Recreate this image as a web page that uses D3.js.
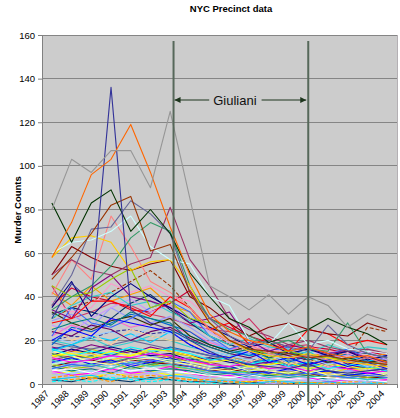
<!DOCTYPE html>
<html>
<head>
<meta charset="utf-8">
<script src="https://cdn.jsdelivr.net/npm/d3@7"></script>
<style>
  html, body { margin: 0; padding: 0; background: #fff; }
  svg { display: block; font-family: "Liberation Sans", Arial, sans-serif; }
</style>
</head>
<body>
<svg id="chart" width="400" height="418"></svg>
<script>

var years = [1987, 1988, 1989, 1990, 1991, 1992, 1993, 1994, 1995,
             1996, 1997, 1998, 1999, 2000, 2001, 2002, 2003, 2004];

var yTicks = [0, 20, 40, 60, 80, 100, 120, 140, 160];

// one row per precinct (1987 .. 2004)
var murderCounts = [
  [80,103,97,107,107,90,125,85,45,40,34,41,32,40,36,26,32,29],
  [58,74,96,103,119,97,72,50,32,24,20,18,15,17,14,12,13,10],
  [30,46,38,136,34,28,25,20,15,11,9,8,7,9,6,5,6,7],
  [83,65,83,89,70,80,69,51,40,30,26,19,22,25,30,26,23,18],
  [48,58,69,82,86,61,64,42,28,20,16,15,14,12,13,11,10,9],
  [36,50,71,72,84,78,69,42,30,22,18,20,17,15,27,18,14,12],
  [60,65,66,70,77,63,57,55,40,36,20,18,28,18,20,16,15,14],
  [58,67,68,65,52,56,57,45,28,20,15,13,12,14,12,10,9,8],
  [34,40,45,54,67,74,70,45,30,25,22,18,20,16,15,28,14,12],
  [50,57,52,50,55,58,81,57,45,30,25,22,18,20,17,15,16,14],
  [41,57,48,77,63,47,42,35,25,20,18,14,12,13,11,10,12,9],
  [50,63,58,54,52,55,57,40,35,28,22,26,28,25,23,22,28,25],
  [45,40,42,48,53,35,38,30,28,20,16,14,15,13,12,11,10,9],
  [28,30,38,38,35,31,40,35,25,28,18,21,15,25,23,18,20,18],
  [35,47,31,40,46,40,35,30,26,22,17,19,14,16,13,15,11,13],
  [34,30,44,50,40,38,35,28,30,33,20,15,18,16,14,15,12,10],
  [25,28,30,27,33,30,28,20,17,14,16,12,15,11,13,10,12,9],
  [20,25,22,30,28,26,24,18,14,12,15,10,12,9,11,8,10,7],
  [38,33,35,46,42,45,40,38,30,22,18,16,14,17,15,14,13,12],
  [30,36,40,42,36,38,33,29,22,18,21,17,16,14,18,15,17,16],
  [22,35,28,26,30,35,38,33,22,16,19,15,17,12,14,16,12,13],
  [27,24,30,35,39,33,36,30,24,19,15,17,14,16,12,13,15,11],
  [33,28,25,29,31,27,30,22,18,15,17,12,14,13,10,12,10,11],
  [24,22,27,25,20,24,26,21,17,14,12,15,13,11,14,9,12,10],
  [18,26,24,28,32,30,27,24,18,15,13,16,10,13,11,14,10,12],
  [42,36,45,38,41,44,36,33,25,19,15,17,14,12,15,13,12,14],
  [29,32,26,35,30,28,31,26,20,16,14,13,16,12,15,10,13,11],
  [26,20,23,18,25,22,20,19,14,12,10,13,9,11,8,10,9,7],
  [32,35,33,30,37,41,34,28,22,18,16,14,15,13,12,15,14,12],
  [21,19,22,24,21,26,23,20,15,13,11,14,10,12,9,11,8,10],
  [15,18,22,20,23,19,24,22,18,16,13,14,12,15,10,12,11,10],
  [20,22,21,24,25,23,24,18,14,12,10,13,9,11,8,10,9,7],
  [30,35,38,42,47,52,45,35,25,18,15,13,12,11,10,12,26,24],
  [36,44,40,38,34,33,37,43,30,26,22,19,15,17,16,14,15,13],
  [45,30,33,37,36,32,30,27,25,24,30,20,17,18,14,16,15,14],
  [13,14,12,15,13,16,15,13,10,11,8,9,10,7,9,8,7,8],
  [16,13,15,14,17,15,16,14,11,12,9,11,8,10,7,9,8,6],
  [12,10,11,13,12,14,13,11,9,8,10,7,8,6,8,7,5,6],
  [9,11,10,12,14,12,11,10,8,9,6,7,8,5,7,5,6,5],
  [15,13,10,9,11,12,10,9,7,6,8,6,5,7,4,5,6,4],
  [7,9,8,10,9,11,10,8,6,5,4,6,4,5,4,3,4,3],
  [11,8,9,7,10,8,9,7,5,6,5,3,4,3,4,3,2,3],
  [6,7,5,8,6,7,6,5,4,3,4,3,2,3,3,2,2,1],
  [4,5,6,4,7,5,6,4,3,2,3,2,2,1,2,2,1,1],
  [3,4,2,5,3,4,3,2,2,1,1,2,0,1,0,1,1,0],
  [2,3,4,2,3,2,4,3,1,2,0,1,1,0,1,0,0,1],
  [5,3,4,6,4,5,3,4,2,1,2,0,1,2,0,1,0,0],
  [8,6,7,5,8,6,7,6,4,5,3,4,3,4,2,3,2,3],
  [10,12,9,11,8,10,12,9,7,8,6,5,7,5,6,4,5,4],
  [14,11,13,10,12,9,11,12,9,7,8,6,5,7,6,4,5,6],
  [17,15,18,16,14,17,15,13,11,12,9,10,8,9,10,7,9,8],
  [19,17,16,18,20,18,16,15,13,11,12,9,11,8,10,9,11,8],
  [12,15,14,11,13,15,12,10,9,8,6,8,7,6,5,7,6,5],
  [6,4,5,7,5,6,8,5,3,4,2,3,2,3,1,2,1,2],
  [3,2,3,1,4,2,3,2,1,1,0,1,0,0,1,0,0,0],
  [1,2,1,3,2,1,2,1,0,1,0,0,1,0,0,0,1,0],
  [9,7,8,10,7,9,8,7,6,5,6,4,5,4,3,4,3,4],
  [13,16,14,17,15,13,14,11,12,10,9,11,8,10,9,7,8,6],
  [7,5,6,4,6,8,5,6,4,3,3,2,3,2,2,1,2,1],
  [11,13,12,9,12,11,13,10,10,8,9,7,8,6,7,5,6,7],
  [4,6,3,5,4,6,4,5,3,2,1,2,1,1,0,1,0,1],
  [16,18,15,13,16,14,17,15,13,12,10,11,9,8,10,9,7,9],
  [8,10,11,9,11,10,9,8,6,7,5,6,4,5,3,4,3,3],
  [20,18,21,17,19,22,20,17,15,13,14,12,11,13,10,12,9,11],
  [5,8,7,6,9,7,6,7,5,6,4,3,5,3,4,2,3,2],
  [2,1,3,2,1,3,2,1,1,0,1,0,0,1,0,0,0,0],
  [10,9,12,13,10,13,11,10,8,9,7,8,6,7,5,6,5,4],
  [14,12,16,13,15,12,14,13,11,13,10,12,9,11,10,12,9,10],
  [9,12,10,8,11,13,10,11,9,7,9,8,10,7,9,6,8,7],
  [22,27,24,30,26,28,25,24,19,16,17,14,15,13,14,12,13,11],
  [6,8,9,7,10,8,11,9,8,6,7,5,6,5,4,5,3,4]
];

var lineColors = [
  '#969696','#FF6600','#333399','#003300','#993300','#666699','#CCFFFF','#FFCC00',
  '#339966','#993366','#FF8080','#800000','#99CC00',
  '#FF0000','#000080','#800080','#008080','#0000FF','#FF99CC','#33CCCC','#3366FF',
  '#CC99FF','#333300','#660066','#0066CC','#FF9900','#9999FF','#FFCC99','#003366',
  '#99CCFF','#00CCFF',
  '#333399','#993300','#CC0033','#CC3366',
  '#FFFF00','#00FFFF','#FF00FF','#CCFFCC','#FFFF99','#3366FF','#33CCCC','#FFFFFF',
  '#99CCFF','#FF9900','#00CCFF','#CC99FF','#008080','#0000FF','#339966','#800080',
  '#666699','#FFCC00','#FF00FF','#FF9900','#00FFFF','#99CC00','#000080','#CCFFFF',
  '#993366','#FFFF00','#0066CC','#800000','#33CCCC','#FF99CC','#003366','#9999FF',
  '#CCCC00','#66CCFF','#FF66CC','#999933'
];

var dashedLines = [31, 32, 44, 54, 55];

var giulianiYears = [1993.17, 2000];
var giulianiLabel = 'Giuliani';

var chartTitle = 'NYC Precinct data',
    yTitle = 'Murder Counts';

var width = 400,
    height = 418,
    plot = { left: 42, right: 397, top: 35, bottom: 384 };

var svg = d3.select('#chart');

var x = d3.scalePoint().domain(years).range([plot.left, plot.right]).padding(0.5),
    y = d3.scaleLinear().domain([0, 160]).range([plot.bottom, plot.top]),
    xYear = d3.scaleLinear()
      .domain([years[0], years[years.length - 1]])
      .range([x(years[0]), x(years[years.length - 1])]);

svg.append('rect').attr('width', width).attr('height', height).attr('fill', '#fff');

svg.append('rect')
  .attr('x', plot.left).attr('y', plot.top)
  .attr('width', plot.right - plot.left).attr('height', plot.bottom - plot.top)
  .attr('fill', '#cccccc')
  .attr('stroke', '#b4b0b4')
  .attr('shape-rendering', 'crispEdges');

// horizontal gridlines
svg.append('g').selectAll('line')
  .data(yTicks.slice(1))
  .join('line')
    .attr('x1', plot.left).attr('x2', plot.right)
    .attr('y1', function(d) { return y(d); })
    .attr('y2', function(d) { return y(d); })
    .attr('stroke', '#858585')
    .attr('shape-rendering', 'crispEdges');

// precinct lines, last rows first so the big ones sit on top
var line = d3.line()
  .x(function(d, i) { return x(years[i]); })
  .y(function(d) { return y(d); });

var rows = murderCounts.map(function(d, i) { return { values: d, index: i }; }).reverse();

svg.append('g').selectAll('path')
  .data(rows)
  .join('path')
    .attr('d', function(d) { return line(d.values); })
    .attr('fill', 'none')
    .attr('stroke', function(d) { return lineColors[d.index % lineColors.length]; })
    .attr('stroke-width', 1.1)
    .attr('stroke-dasharray', function(d) { return dashedLines.indexOf(d.index) >= 0 ? '4,2' : null; })
    .attr('stroke-linejoin', 'round');

// y axis
var yAxis = svg.append('g')
  .attr('transform', 'translate(' + plot.left + ',0)')
  .call(d3.axisLeft(y).tickValues(yTicks).tickSize(4).tickSizeOuter(0).tickPadding(3));

yAxis.select('.domain').attr('stroke', '#808080');
yAxis.selectAll('.tick line').attr('stroke', '#808080');
yAxis.selectAll('.tick text')
  .attr('font-size', 9.5)
  .attr('fill', '#000')
  .attr('font-family', '"Liberation Sans", Arial, sans-serif');

// x axis: labels at the points, tick marks between categories
var xAxis = svg.append('g')
  .attr('transform', 'translate(0,' + plot.bottom + ')')
  .call(d3.axisBottom(x).tickSize(0).tickSizeOuter(0));

xAxis.select('.domain').attr('stroke', '#808080');
xAxis.selectAll('.tick text')
  .attr('x', 0).attr('y', 0).attr('dy', '0.35em')
  .attr('text-anchor', 'end')
  .attr('transform', 'translate(-5,8) rotate(-45)')
  .attr('font-size', 9.5)
  .attr('fill', '#000')
  .attr('font-family', '"Liberation Sans", Arial, sans-serif');

var step = x.step();
xAxis.append('g').selectAll('line')
  .data(years.concat([years[years.length - 1] + 1]))
  .join('line')
    .attr('x1', function(d, i) { return i < years.length ? x(d) - step / 2 : x(years[i - 1]) + step / 2; })
    .attr('x2', function(d, i) { return i < years.length ? x(d) - step / 2 : x(years[i - 1]) + step / 2; })
    .attr('y1', 0).attr('y2', 4)
    .attr('stroke', '#808080')
    .attr('shape-rendering', 'crispEdges');

// Giuliani term markers
svg.append('g').selectAll('line')
  .data(giulianiYears)
  .join('line')
    .attr('x1', function(d) { return xYear(d); })
    .attr('x2', function(d) { return xYear(d); })
    .attr('y1', 41).attr('y2', 402)
    .attr('stroke', '#56685a')
    .attr('stroke-width', 2);

var defs = svg.append('defs');
defs.append('marker')
  .attr('id', 'arrow')
  .attr('viewBox', '0 0 8 8')
  .attr('refX', 8).attr('refY', 4)
  .attr('markerWidth', 6).attr('markerHeight', 6)
  .attr('markerUnits', 'userSpaceOnUse')
  .attr('orient', 'auto')
  .append('path')
    .attr('d', 'M0,0 L8,4 L0,8 z')
    .attr('fill', '#1d351d');

var xa = xYear(giulianiYears[0]),
    xb = xYear(giulianiYears[1]),
    arrowY = 100,
    labelX = (xa + xb) / 2 - 6;

var label = svg.append('text')
  .attr('x', labelX).attr('y', arrowY + 4.5)
  .attr('text-anchor', 'middle')
  .attr('font-size', 13)
  .attr('fill', '#111')
  .text(giulianiLabel);

var half = label.node().getComputedTextLength() / 2;

svg.append('line')
  .attr('x1', labelX - half - 4).attr('x2', xa + 1)
  .attr('y1', arrowY).attr('y2', arrowY)
  .attr('stroke', '#1d351d').attr('stroke-width', 1)
  .attr('marker-end', 'url(#arrow)');

svg.append('line')
  .attr('x1', labelX + half + 5).attr('x2', xb - 2)
  .attr('y1', arrowY).attr('y2', arrowY)
  .attr('stroke', '#1d351d').attr('stroke-width', 1)
  .attr('marker-end', 'url(#arrow)');

// titles
svg.append('text')
  .attr('x', 231).attr('y', 12)
  .attr('text-anchor', 'middle')
  .attr('font-size', 9.5)
  .attr('font-weight', 'bold')
  .text(chartTitle);

svg.append('text')
  .attr('transform', 'translate(21,210) rotate(-90)')
  .attr('text-anchor', 'middle')
  .attr('font-size', 9.5)
  .attr('font-weight', 'bold')
  .text(yTitle);

</script>
</body>
</html>
